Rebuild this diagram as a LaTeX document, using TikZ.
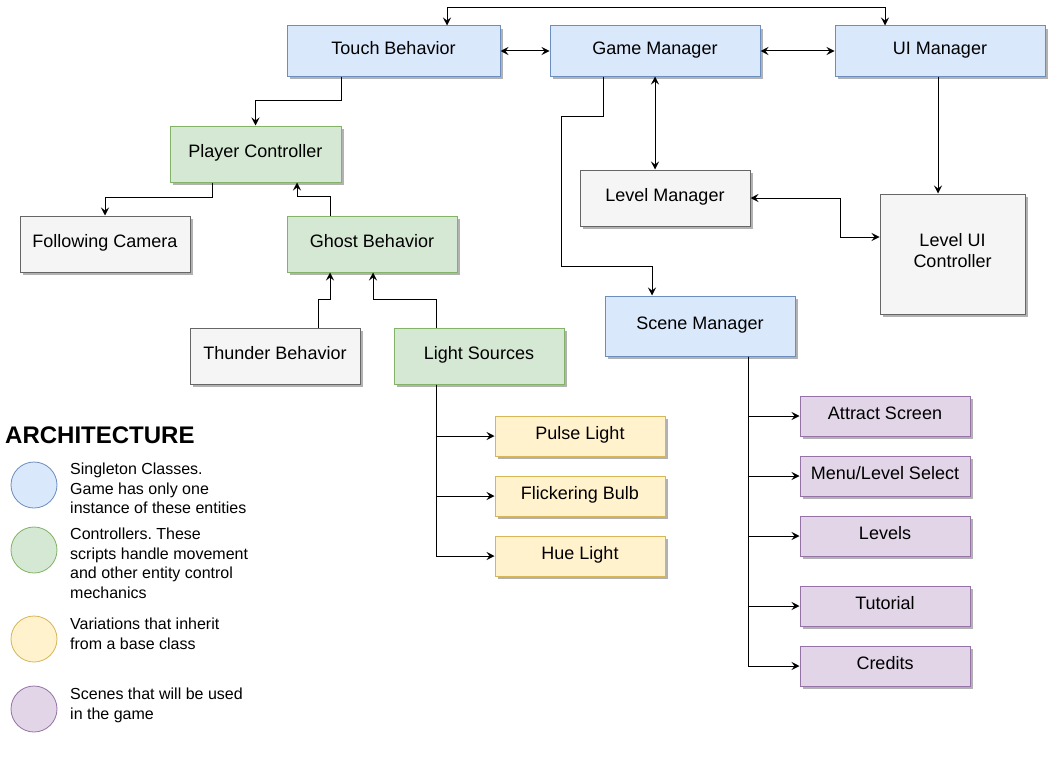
\documentclass[tikz,border=0pt]{standalone}
\usepackage{fontspec}
\setmainfont{Liberation Sans}
\frenchspacing
\usetikzlibrary{arrows.meta,shadows,calc}
\definecolor{bfill}{HTML}{DAE8FC}\definecolor{bdraw}{HTML}{6C8EBF}
\definecolor{gfill}{HTML}{D5E8D4}\definecolor{gdraw}{HTML}{82B366}
\definecolor{yfill}{HTML}{FFF2CC}\definecolor{ydraw}{HTML}{D6B656}
\definecolor{pfill}{HTML}{E1D5E7}\definecolor{pdraw}{HTML}{9673A6}
\definecolor{qfill}{HTML}{F5F5F5}\definecolor{qdraw}{HTML}{666666}
\tikzset{
  box/.style={rectangle, line width=1pt, inner sep=0pt, align=center,
    font=\fontsize{18}{21}\selectfont, text height=0.72em, text depth=1pt,
    drop shadow={shadow xshift=3pt, shadow yshift=-3pt, fill=black!30, opacity=1}},
  bluebox/.style={box, fill=bfill, draw=bdraw},
  greenbox/.style={box, fill=gfill, draw=gdraw},
  yellowbox/.style={box, fill=yfill, draw=ydraw},
  purplebox/.style={box, fill=pfill, draw=pdraw},
  graybox/.style={box, fill=qfill, draw=qdraw},
  conn/.style={line width=1pt, draw=black, -{Stealth[length=8pt,width=8pt,inset=3pt]}},
  dconn/.style={line width=1pt, draw=black, {Stealth[length=8pt,width=8pt,inset=3pt]}-{Stealth[length=8pt,width=8pt,inset=3pt]}},
  legdot/.style={circle, line width=0.8pt, minimum size=46pt, inner sep=0pt},
  legtext/.style={anchor=north west, align=left, inner sep=0pt, font=\fontsize{16}{19.5}\selectfont}
}
\begin{document}
\begin{tikzpicture}[x=1pt,y=-1pt]
\useasboundingbox (0,0) rectangle (1048,768);
% nodes
\node[bluebox, minimum width=213pt, minimum height=50pt] (touch) at (393.5,51) {Touch Behavior};
\node[bluebox, minimum width=210pt, minimum height=50pt] (game) at (655,51) {Game Manager};
\node[bluebox, minimum width=210pt, minimum height=50pt] (ui) at (940,51) {UI Manager};
\node[greenbox, minimum width=171pt, minimum height=56pt] (player) at (255.5,154) {Player Controller};
\node[graybox, minimum width=170pt, minimum height=56pt] (camera) at (105,244) {Following Camera};
\node[greenbox, minimum width=170pt, minimum height=56pt] (ghost) at (372,244) {Ghost Behavior};
\node[graybox, minimum width=170pt, minimum height=56pt] (thunder) at (275,356) {Thunder Behavior};
\node[greenbox, minimum width=170pt, minimum height=56pt] (light) at (479,356) {Light Sources};
\node[graybox, minimum width=170pt, minimum height=56pt] (level) at (665,198) {Level Manager};
\node[graybox, minimum width=145pt, minimum height=120pt, text height=, text depth=8pt] (levelui) at (952.5,254) {Level UI\\Controller};
\node[bluebox, minimum width=190pt, minimum height=60pt] (scene) at (700,326) {Scene Manager};
\node[yellowbox, minimum width=170pt, minimum height=40pt] (pulse) at (580,436) {Pulse Light};
\node[yellowbox, minimum width=170pt, minimum height=40pt] (flicker) at (580,496) {Flickering Bulb};
\node[yellowbox, minimum width=170pt, minimum height=40pt] (hue) at (580,556) {Hue Light};
\node[purplebox, minimum width=170pt, minimum height=40pt] (attract) at (885,416) {Attract Screen};
\node[purplebox, minimum width=170pt, minimum height=40pt] (menu) at (885,476) {Menu/Level Select};
\node[purplebox, minimum width=170pt, minimum height=40pt] (levels) at (885,536) {Levels};
\node[purplebox, minimum width=170pt, minimum height=40pt] (tutorial) at (885,606) {Tutorial};
\node[purplebox, minimum width=170pt, minimum height=40pt] (credits) at (885,666) {Credits};
% connectors
\draw[dconn] ([xshift=53.5pt]touch.north) -- ++(0,-18) -| ([xshift=-55pt]ui.north);
\draw[dconn] (touch.east) -- (game.west);
\draw[dconn] (game.east) -- (ui.west);
\draw[conn] ([xshift=-52.5pt]touch.south) -- ++(0,24) -| (player.north);
\draw[conn] ([xshift=-43.5pt]player.south) -- ++(0,15) -| (camera.north);
\draw[conn] ([xshift=-42pt]ghost.north) -- ++(0,-19) -| ([xshift=41.5pt]player.south);
\draw[conn] ([xshift=43pt]thunder.north) -- ++(0,-28) -| ([xshift=-42pt]ghost.south);
\draw[conn] ([xshift=-43pt]light.north) -- ++(0,-28) -| ([xshift=1pt]ghost.south);
\draw[conn] ([xshift=-43pt]light.south) |- (pulse.west);
\draw[conn] ([xshift=-43pt]light.south) |- (flicker.west);
\draw[conn] ([xshift=-43pt]light.south) |- (hue.west);
\draw[dconn] (game.south) -- (game.south |- level.north);
\draw[conn] ([xshift=-52pt]game.south) -- ++(0,40) -- ++(-42,0) -- ++(0,150) -| ([xshift=-48pt]scene.north);
\draw[conn] ([xshift=-2pt]ui.south) -- ([xshift=-14.5pt]levelui.north);
\draw[dconn] (level.east) -- ++(90,0) |- ([yshift=17pt]levelui.west);
\draw[conn] ([xshift=48pt]scene.south) |- (attract.west);
\draw[conn] ([xshift=48pt]scene.south) |- (menu.west);
\draw[conn] ([xshift=48pt]scene.south) |- (levels.west);
\draw[conn] ([xshift=48pt]scene.south) |- (tutorial.west);
\draw[conn] ([xshift=48pt]scene.south) |- (credits.west);
% legend
\node[anchor=west, inner sep=0pt, font=\bfseries\fontsize{24}{28}\selectfont] (title) at (5,435) {ARCHITECTURE};
\node[legdot, fill=bfill, draw=bdraw] (d1) at (34,485) {};
\node[legdot, fill=gfill, draw=gdraw] (d2) at (34,550) {};
\node[legdot, fill=yfill, draw=ydraw] (d3) at (34,639) {};
\node[legdot, fill=pfill, draw=pdraw] (d4) at (34,709) {};
\node[legtext] (t1) at (70,463) {Singleton Classes.\\Game has only one\\instance of these entities};
\node[legtext] (t2) at (70,528) {Controllers. These\\scripts handle movement\\and other entity control\\mechanics};
\node[legtext] (t3) at (70,618) {Variations that inherit\\from a base class};
\node[legtext] (t4) at (70,688) {Scenes that will be used\\in the game};
\end{tikzpicture}
\end{document}
